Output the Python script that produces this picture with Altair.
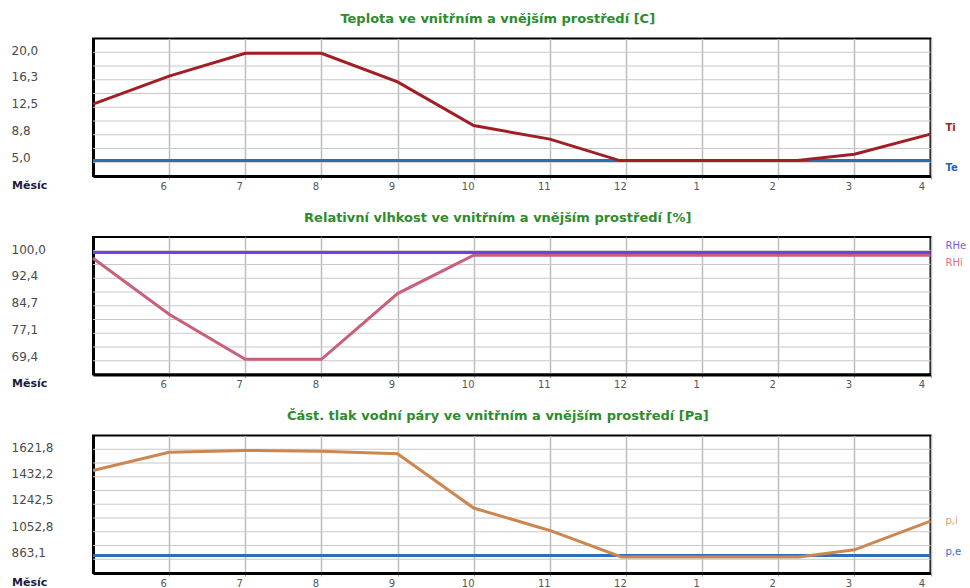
import altair as alt
import pandas as pd

# Month axis: index 0 is the left edge (month 5), index 11 the right edge (month 4)
MONTHS = ["5", "6", "7", "8", "9", "10", "11", "12", "1", "2", "3", "4"]
MONTH_T = list(range(12))

# Temperature [C]
TI_T = [0, 1, 2, 3, 4, 5, 6, 6.92, 9.25, 10, 11]
TI = [12.9, 16.8, 20.0, 20.0, 16.0, 9.9, 8.0, 5.0, 5.0, 5.9, 8.7]
TE = [5.0, 5.0, 5.0, 5.0, 5.0, 5.0, 5.0, 5.0, 5.0, 5.0, 5.0, 5.0]
T_TICKS = [20.0, 16.3, 12.5, 8.8, 5.0]

# Relative humidity [%]
RHI = [98.3, 82.3, 69.4, 69.4, 88.2, 99.2, 99.2, 99.2, 99.2, 99.2, 99.2, 99.2]
RHE = [100.0, 100.0, 100.0, 100.0, 100.0, 100.0, 100.0, 100.0, 100.0, 100.0, 100.0, 100.0]
RH_TICKS = [100.0, 92.4, 84.7, 77.1, 69.4]

# Partial water vapour pressure [Pa]
PI_T = [0, 1, 2, 3, 4, 5, 6, 6.94, 9.27, 10, 11]
PI = [1477, 1609, 1621.8, 1617, 1598, 1206, 1044, 852, 852, 904, 1111]
PE = [863.1, 863.1, 863.1, 863.1, 863.1, 863.1, 863.1, 863.1, 863.1, 863.1, 863.1, 863.1]
P_TICKS = [1621.8, 1432.2, 1242.5, 1052.8, 863.1]

FONT = "DejaVu Sans"
PLOT_W = 837.5
PLOT_H = 137.5

month_expr = "[" + ",".join(f"'{m}'" for m in MONTHS) + "][datum.value]"
comma_expr = "replace(format(datum.value, '.1f'), '.', ',')"


def panel(title, domain, ticks, series, labels):
    lo, hi = domain
    x = alt.X(
        "t:Q",
        scale=alt.Scale(domain=[0, 11], nice=False, zero=False),
        axis=alt.Axis(
            values=list(range(1, 12)), labelExpr=month_expr,
            grid=True, gridColor="#bdbdbd", gridWidth=1.5,
            domainColor="black", domainWidth=3,
            tickColor="#9a9a9a", tickSize=3,
            labelPadding=2, labelOffset=-6, labelFont=FONT, labelFontSize=10,
            labelColor="#555555",
            title="Měsíc", titleX=-81.5, titleY=9, titleAlign="left",
            titleAnchor="start", titleBaseline="middle", titleFont=FONT,
            titleFontSize=11, titleFontWeight="bold", titleColor="#1b1b3a",
        ),
    )
    y = alt.Y(
        "v:Q",
        scale=alt.Scale(domain=[lo, hi], nice=False, zero=False),
        axis=alt.Axis(
            values=ticks, labelExpr=comma_expr, grid=False, ticks=False,
            tickSize=0, domainColor="black", domainWidth=3,
            labelAlign="left", labelBaseline="middle", labelPadding=82,
            labelOffset=-3, labelFont=FONT, labelFontSize=12,
            labelColor="#4a4a4a", title=None,
        ),
    )

    grid_df = pd.DataFrame({"v": [lo + (hi - lo) * k / 10 for k in range(1, 10)]})
    layers = [alt.Chart(grid_df).mark_rule(color="#c8c8c8", strokeWidth=1).encode(y=y)]

    for ts, vals, color in series:
        df = pd.DataFrame({"t": ts, "v": vals})
        layers.append(
            alt.Chart(df).mark_line(color=color, strokeWidth=3).encode(x=x, y=y)
        )

    for name, ts, vals, color, dy, weight in labels:
        df = pd.DataFrame({"t": [ts[-1]], "v": [vals[-1]], "name": [name]})
        layers.append(
            alt.Chart(df)
            .mark_text(align="left", baseline="middle", dx=15, dy=dy, color=color,
                       font=FONT, fontSize=10, fontWeight=weight)
            .encode(x=x, y=y, text="name:N")
        )

    return alt.layer(*layers).properties(
        width=PLOT_W,
        height=PLOT_H,
        title=alt.TitleParams(
            title, font=FONT, fontSize=13, fontWeight="bold", color="#2e8b2e",
            anchor="middle", baseline="middle", offset=6.5, dx=-14,
        ),
    )


p1 = panel(
    "Teplota ve vnitřním a vnějším prostředí [C]",
    (2.85, 22.06), T_TICKS,
    [(MONTH_T, TE, "#2770b8"), (TI_T, TI, "#a01e24")],
    [("Ti", TI_T, TI, "#a82020", -6, "bold"), ("Te", MONTH_T, TE, "#2a5fc0", 7, "bold")],
)
p2 = panel(
    "Relativní vlhkost ve vnitřním a vnějším prostředí [%]",
    (65.05, 104.4), RH_TICKS,
    [(MONTH_T, RHI, "#c8607a"), (MONTH_T, RHE, "#7040e0")],
    [("RHe", MONTH_T, RHE, "#7a5ae0", -6, "normal"), ("RHi", MONTH_T, RHI, "#e07080", 8, "normal")],
)
p3 = panel(
    "Část. tlak vodní páry ve vnitřním a vnějším prostředí [Pa]",
    (736.6, 1730.2), P_TICKS,
    [(MONTH_T, PE, "#2c6fbd"), (PI_T, PI, "#cc8750")],
    [("p,i", PI_T, PI, "#d8a070", 0, "normal"), ("p,e", MONTH_T, PE, "#3070d0", -3, "normal")],
)

chart = (
    alt.vconcat(p1, p2, p3, spacing=17.5)
    .properties(padding={"left": 10, "top": 11.5, "right": 0, "bottom": 0})
    .configure_view(stroke="black", strokeWidth=2)
)

chart.save("out.html", embed_options={"renderer": "svg", "actions": False})
